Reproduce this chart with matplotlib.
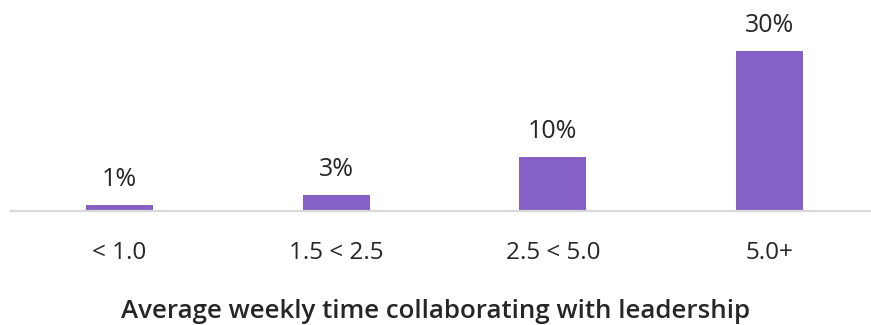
import matplotlib
matplotlib.use("Agg")
import matplotlib.pyplot as plt

categories = ["< 1.0", "1.5 < 2.5", "2.5 < 5.0", "5.0+"]
shares = [1, 3, 10, 30]
value_labels = ["1%", "3%", "10%", "30%"]
x_title = "Average weekly time collaborating with leadership"

W, H = 871, 325
plt.rcParams["font.family"] = ["Open Sans", "DejaVu Sans"]
text_color = "#262626"
bar_color = "#8661c5"

fig = plt.figure(figsize=(W / 100, H / 100), dpi=100)
base_y = 210.5
ax = fig.add_axes([11 / W, (H - base_y) / H, 1 - 11 / W, base_y / H])

pos = list(range(len(categories)))
ax.bar(pos, shares, width=0.31, color=bar_color, zorder=2)
ax.set_xlim(-0.5, (W - 119.5) / 216.7)
ax.set_ylim(0, 30 * base_y / 159.5)

for p, v, lab in zip(pos, shares, value_labels):
    ax.annotate(lab, (p, v), xytext=(0, 19 * 0.72), textcoords="offset points",
                ha="center", va="baseline", fontsize=18, color=text_color)

for s in ["top", "right", "left"]:
    ax.spines[s].set_visible(False)
ax.spines["bottom"].set_color("#d9d9d9")
ax.spines["bottom"].set_linewidth(1.6)
ax.set_yticks([])
ax.set_xticks(pos)
ax.set_xticklabels(categories, fontsize=17.5, color=text_color)
ax.tick_params(axis="x", length=0, pad=22)

fig.text(0.5, (H - 318) / H, x_title, ha="center", va="baseline",
         fontsize=18.6, fontweight="semibold", color=text_color)

fig.savefig("out.png", dpi=100)
